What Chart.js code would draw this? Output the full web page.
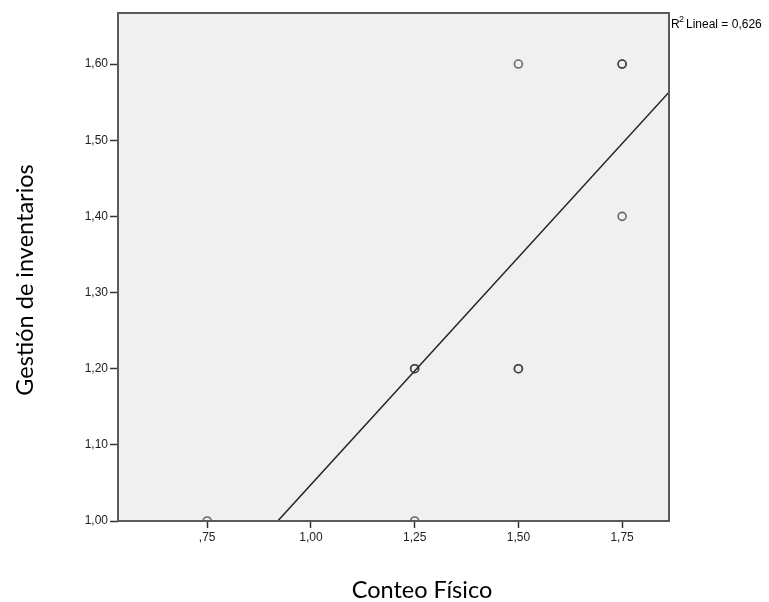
<!doctype html>
<html lang="es">
<head>
    <meta charset="utf-8">
    <title>Conteo Físico vs Gestión de inventarios</title>
    <style>
        * { margin: 0; padding: 0; }
        body { background: #fff; }
        .chartBox { width: 769px; height: 602px; }
    </style>
</head>
<body>
<div class="chartBox">
    <canvas id="myChart"></canvas>
</div>
<script src="https://cdn.jsdelivr.net/npm/chart.js"></script>
<script>
    // data (repeated points are repeated observations)
    const conteoFisico = [0.75, 1.25, 1.25, 1.25, 1.50, 1.50, 1.50, 1.75, 1.75, 1.75];
    const gestionInventarios = [1.00, 1.00, 1.20, 1.20, 1.20, 1.20, 1.60, 1.60, 1.60, 1.40];
    const fitLineX = [0.92, 1.863];
    const fitLineY = [1.00, 1.563];
    const xTicks = [0.75, 1.00, 1.25, 1.50, 1.75];
    const yTicks = [1.00, 1.10, 1.20, 1.30, 1.40, 1.50, 1.60];
    const r2Label = 'Lineal = 0,626';

    const points = conteoFisico.map((x, i) => ({x, y: gestionInventarios[i]}));
    const fitLine = fitLineX.map((x, i) => ({x, y: fitLineY[i]}));

    // SPSS style: comma decimals, no leading zero
    const fmt = v => v.toFixed(2).replace('.', ',').replace(/^0/, '');

    const frame = {
        id: 'frame',
        beforeDatasetsDraw(chart) {
            const {ctx, chartArea: {left, top, width, height}} = chart;
            ctx.save();
            ctx.fillStyle = '#F0F0F0';
            ctx.fillRect(left, top, width, height);
            ctx.restore();
        },
        afterDraw(chart) {
            const {ctx, chartArea: {left, top, width, height}} = chart;
            ctx.save();
            ctx.strokeStyle = '#5a5a5a';
            ctx.lineWidth = 2;
            ctx.strokeRect(left, top, width, height);

            // axis titles
            ctx.fillStyle = '#000';
            ctx.font = '23.5px Lato, "Open Sans", sans-serif';
            ctx.textAlign = 'center';
            ctx.textBaseline = 'alphabetic';
            ctx.fillText('Conteo Físico', 422, 598);
            ctx.translate(33, 280);
            ctx.rotate(-Math.PI / 2);
            ctx.fillText('Gestión de inventarios', 0, 0);
            ctx.setTransform(1, 0, 0, 1, 0, 0);

            // R2 label
            ctx.textAlign = 'left';
            ctx.font = '12px "Liberation Sans", Arial, sans-serif';
            ctx.fillText('R', left + width + 2, 28);
            ctx.font = '9px "Liberation Sans", Arial, sans-serif';
            ctx.fillText('2', left + width + 10, 22);
            ctx.font = '12px "Liberation Sans", Arial, sans-serif';
            ctx.fillText(r2Label, left + width + 17, 28);
            ctx.restore();
        }
    };

    const tickFont = {family: '"Liberation Sans", Arial, sans-serif', size: 12};

    const config = {
        type: 'scatter',
        data: {
            datasets: [{
                label: 'Observado',
                data: points,
                pointRadius: 4,
                pointHoverRadius: 4,
                borderWidth: 1.6,
                borderColor: 'rgba(45, 45, 45, 0.7)',
                backgroundColor: 'rgba(0, 0, 0, 0)',
                clip: 0
            }, {
                label: 'Lineal',
                data: fitLine,
                showLine: true,
                pointRadius: 0,
                borderWidth: 1.5,
                borderColor: '#222',
                clip: 0
            }]
        },
        options: {
            responsive: true,
            maintainAspectRatio: false,
            animation: false,
            layout: {padding: {top: 13, right: 100, left: 0, bottom: 0}},
            plugins: {
                legend: {display: false},
                tooltip: {enabled: false}
            },
            scales: {
                x: {
                    type: 'linear',
                    min: 0.535,
                    max: 1.863,
                    afterBuildTicks: s => { s.ticks = xTicks.map(v => ({value: v})); },
                    afterFit: s => { s.height = 81; },
                    grid: {
                        drawOnChartArea: false,
                        tickLength: 7,
                        tickColor: '#333',
                        tickWidth: 1.5
                    },
                    border: {display: false},
                    ticks: {
                        color: '#222',
                        font: tickFont,
                        padding: 2,
                        maxRotation: 0,
                        callback: v => fmt(v)
                    }
                },
                y: {
                    type: 'linear',
                    min: 1.0,
                    max: 1.667,
                    afterBuildTicks: s => { s.ticks = yTicks.map(v => ({value: v})); },
                    afterFit: s => { s.width = 118; },
                    grid: {
                        drawOnChartArea: false,
                        tickLength: 8,
                        tickColor: '#333',
                        tickWidth: 1.5
                    },
                    border: {display: false},
                    ticks: {
                        color: '#222',
                        font: tickFont,
                        padding: 2,
                        callback: v => fmt(v)
                    }
                }
            }
        },
        plugins: [frame]
    };

    const myChart = new Chart(document.getElementById('myChart'), config);
</script>
</body>
</html>
